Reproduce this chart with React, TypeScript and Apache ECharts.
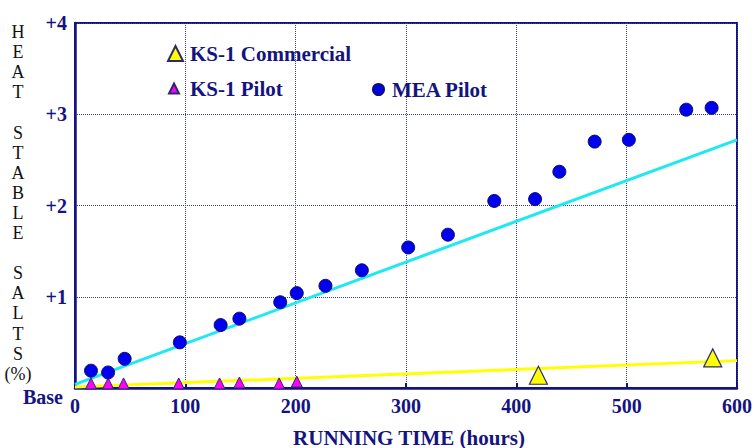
import React, { useEffect, useRef } from "react";
import * as echarts from "echarts";

const yTickLabels = ["Base", "+1", "+2", "+3", "+4"];
const xTickValues = [0, 100, 200, 300, 400, 500, 600];

const meaHours = [14.5, 30, 45, 95, 132, 149, 186, 201, 227, 260, 302, 338, 380, 417, 439, 471, 502, 554, 577];
const meaValues = [0.19, 0.17, 0.32, 0.5, 0.69, 0.76, 0.94, 1.04, 1.12, 1.29, 1.54, 1.68, 2.05, 2.07, 2.37, 2.7, 2.72, 3.05, 3.07];

const pilotHours = [14.5, 30, 44, 94, 131, 149, 185, 201];
const pilotValues = [0.05, 0.05, 0.05, 0.05, 0.05, 0.06, 0.05, 0.07];

const commercialHours = [420, 578];
const commercialValues = [0.14, 0.33];

const meaTrendHours = [0, 600];
const meaTrendValues = [0.04, 2.72];

const ksTrendHours = [0, 600];
const ksTrendValues = [0.01, 0.3];

const NAVY = "#141480";
const FONT = "'Liberation Serif', 'Times New Roman', serif";

const zip = (xs: number[], ys: number[]) => xs.map((x, i) => [x, ys[i]]);

export default function App() {
  const ref = useRef<HTMLDivElement>(null);

  useEffect(() => {
    if (!ref.current) return;
    const chart = echarts.init(ref.current, undefined, { renderer: "svg" });
    const legendText = { color: NAVY, fontWeight: "bold", fontSize: 21, fontFamily: FONT };
    chart.setOption({
      animation: false,
      textStyle: { fontFamily: FONT },
      grid: {
        left: 75,
        right: 17,
        top: 23,
        bottom: 60,
        outerBoundsMode: "none",
        containLabel: false,
        show: true,
        borderColor: NAVY,
        borderWidth: 2,
        backgroundColor: "transparent",
      },
      legend: [
        {
          data: [{ name: "KS-1 Commercial", icon: "triangle" }],
          left: 167,
          top: 43,
          itemWidth: 15,
          itemHeight: 15,
          padding: 0,
          textStyle: { ...legendText, padding: [0, 0, 0, 2] },
          selectedMode: false,
        },
        {
          data: [{ name: "KS-1 Pilot", icon: "triangle" }],
          left: 168,
          top: 78,
          itemWidth: 10,
          itemHeight: 10,
          padding: 0,
          textStyle: { ...legendText, padding: [0, 0, 0, 6] },
          selectedMode: false,
        },
        {
          data: [{ name: "MEA Pilot", icon: "circle" }],
          left: 372,
          top: 79,
          itemWidth: 11,
          itemHeight: 11,
          padding: 0,
          textStyle: { ...legendText, padding: [0, 0, 0, 3] },
          selectedMode: false,
        },
      ],
      xAxis: {
        type: "value",
        min: 0,
        max: 600,
        interval: 100,
        name: "RUNNING TIME (hours)",
        nameLocation: "middle",
        nameGap: 39,
        nameTextStyle: {
          color: NAVY,
          fontWeight: "bold",
          fontSize: 21,
          fontFamily: FONT,
          padding: [0, 0, 0, 6],
        },
        axisLine: { show: true, lineStyle: { color: NAVY, width: 2.5 } },
        axisTick: { show: true, inside: true, length: 5, lineStyle: { color: NAVY, width: 2 } },
        axisLabel: {
          color: NAVY,
          fontWeight: "bold",
          fontSize: 20,
          fontFamily: FONT,
          margin: 8,
          formatter: (v: number) => (xTickValues.includes(v) ? String(v) : ""),
        },
        splitLine: { show: true, lineStyle: { color: "#3a3a9a", width: 1, type: [1, 1] } },
      },
      yAxis: {
        type: "value",
        min: 0,
        max: 4,
        interval: 1,
        axisLine: { show: true, lineStyle: { color: NAVY, width: 2.5 } },
        axisTick: { show: false },
        axisLabel: {
          color: NAVY,
          fontWeight: "bold",
          fontSize: 20,
          fontFamily: FONT,
          margin: 8,
          formatter: (v: number) => {
            const s = yTickLabels[Math.round(v)];
            return Math.round(v) === 0 ? "{b|" + s + "}" : s;
          },
          rich: {
            b: {
              color: NAVY,
              fontWeight: "bold",
              fontSize: 20,
              fontFamily: FONT,
              padding: [18, 4, 0, 0],
            },
          },
        },
        splitLine: { show: true, lineStyle: { color: "#3a3a9a", width: 1, type: [1, 1] } },
      },
      graphic: [
        {
          type: "text",
          x: 18,
          y: 22,
          style: {
            text: "H\nE\nA\nT\n\nS\nT\nA\nB\nL\nE\n\nS\nA\nL\nT\nS\n(%)",
            fill: "#111111",
            font: "18px " + FONT,
            lineHeight: 20.1,
            align: "center",
            verticalAlign: "top",
          },
        },
      ],
      series: [
        {
          name: "KS-1 trend",
          type: "line",
          data: zip(ksTrendHours, ksTrendValues),
          symbol: "none",
          lineStyle: { color: "#ffff00", width: 3 },
          silent: true,
          z: 2,
        },
        {
          name: "MEA trend",
          type: "line",
          data: zip(meaTrendHours, meaTrendValues),
          symbol: "none",
          lineStyle: { color: "#1ee8f0", width: 3 },
          silent: true,
          z: 2,
        },
        {
          name: "KS-1 Commercial",
          type: "scatter",
          data: zip(commercialHours, commercialValues),
          symbol: "triangle",
          symbolSize: 18,
          itemStyle: { color: "#ffff00", borderColor: "#2a2a70", borderWidth: 1.2, opacity: 1 },
          z: 3,
        },
        {
          name: "KS-1 Pilot",
          type: "scatter",
          data: zip(pilotHours, pilotValues),
          symbol: "triangle",
          symbolSize: 11,
          itemStyle: { color: "#ff00ff", borderColor: "#2a2a70", borderWidth: 1, opacity: 1 },
          z: 3,
        },
        {
          name: "MEA Pilot",
          type: "scatter",
          data: zip(meaHours, meaValues),
          symbol: "circle",
          symbolSize: 13,
          itemStyle: { color: "#0000ee", borderColor: "#10106a", borderWidth: 1, opacity: 1 },
          z: 4,
        },
      ],
    });
    return () => chart.dispose();
  }, []);

  return <div ref={ref} style={{ width: 754, height: 448, position: "absolute", left: 0, top: 0 }} />;
}
